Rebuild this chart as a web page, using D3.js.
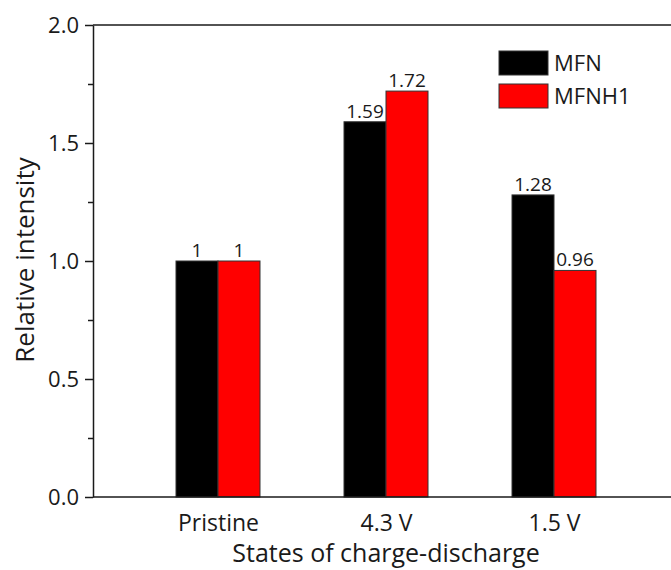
<!DOCTYPE html>
<html>
<head>
<meta charset="utf-8">
<script src="https://cdn.jsdelivr.net/npm/d3@7"></script>
<style>
	body { margin: 0; background: #fff; }
	svg text { font-family: "Open Sans", sans-serif; fill: #1a1a1a; }
</style>
</head>
<body>
<svg width="671" height="570"></svg>
<script>
const states = ["Pristine", "4.3 V", "1.5 V"];
const seriesNames = ["MFN", "MFNH1"];
const mfnValues = [1, 1.59, 1.28];
const mfnh1Values = [1, 1.72, 0.96];
const barLabels = [["1", "1.59", "1.28"], ["1", "1.72", "0.96"]];
const yTicks = [0, 0.5, 1.0, 1.5, 2.0];
const yMinorTicks = [0.25, 0.75, 1.25, 1.75];
const colors = ["#000000", "#ff0000"];

const svg = d3.select("svg");
const plotLeft = 93, plotRight = 679, plotTop = 25, plotBottom = 497;

const x = d3.scalePoint().domain(states).range([plotLeft, plotRight]).padding(0.744);
const y = d3.scaleLinear().domain([0, 2]).range([plotBottom, plotTop]);
const barW = 42;

const series = [mfnValues, mfnh1Values];

// bars
series.forEach((vals, si) => {
	const g = svg.append("g");
	g.selectAll("rect")
		.data(vals)
		.join("rect")
		.attr("x", (d, i) => x(states[i]) + (si - 1) * barW)
		.attr("y", (d) => y(d))
		.attr("width", barW)
		.attr("height", (d) => y(0) - y(d))
		.attr("fill", colors[si])
		.attr("stroke", "#333")
		.attr("stroke-width", 1);

	g.selectAll("text")
		.data(vals)
		.join("text")
		.attr("x", (d, i) => x(states[i]) + (si - 0.5) * barW)
		.attr("y", (d) => y(d) - 4)
		.attr("text-anchor", "middle")
		.style("font-size", "19px")
		.text((d, i) => barLabels[si][i]);
});

// y axis
const yAxis = svg.append("g")
	.attr("transform", `translate(${plotLeft},0)`)
	.call(d3.axisLeft(y).tickValues(yTicks).tickFormat(d3.format(".1f")).tickSize(8).tickSizeOuter(0));
yAxis.selectAll("text").style("font-size", "22px").attr("x", -14);
svg.append("g")
	.attr("transform", `translate(${plotLeft},0)`)
	.call(d3.axisLeft(y).tickValues(yMinorTicks).tickFormat("").tickSize(5).tickSizeOuter(0))
	.select(".domain").remove();

// x axis
const xAxis = svg.append("g")
	.attr("transform", `translate(0,${plotBottom})`)
	.call(d3.axisBottom(x).tickSize(0).tickSizeOuter(0));
xAxis.select(".domain").attr("d", `M${plotLeft},0H671`);
xAxis.selectAll("text").style("font-size", "23px").attr("dy", 0).attr("y", 34);

svg.selectAll(".domain").attr("stroke", "#1a1a1a").attr("stroke-width", 1.5);
svg.selectAll(".tick line").attr("stroke", "#1a1a1a").attr("stroke-width", 1.5);

// top frame line
svg.append("line")
	.attr("x1", plotLeft).attr("x2", 671)
	.attr("y1", plotTop).attr("y2", plotTop)
	.attr("stroke", "#1a1a1a").attr("stroke-width", 1.5);

// axis titles
svg.append("text")
	.attr("x", 386)
	.attr("y", 562)
	.attr("text-anchor", "middle")
	.style("font-size", "25px")
	.text("States of charge-discharge");

svg.append("text")
	.attr("transform", `translate(34,260) rotate(-90)`)
	.attr("text-anchor", "middle")
	.style("font-size", "26px")
	.text("Relative intensity");

// legend
const legend = svg.append("g").attr("transform", "translate(499,51)");
seriesNames.forEach((name, i) => {
	legend.append("rect")
		.attr("x", 0).attr("y", i * 33)
		.attr("width", 49).attr("height", 24)
		.attr("fill", colors[i])
		.attr("stroke", "#333");
	legend.append("text")
		.attr("x", 55).attr("y", i * 33 + 20)
		.style("font-size", "22px")
		.text(name);
});
</script>
</body>
</html>
